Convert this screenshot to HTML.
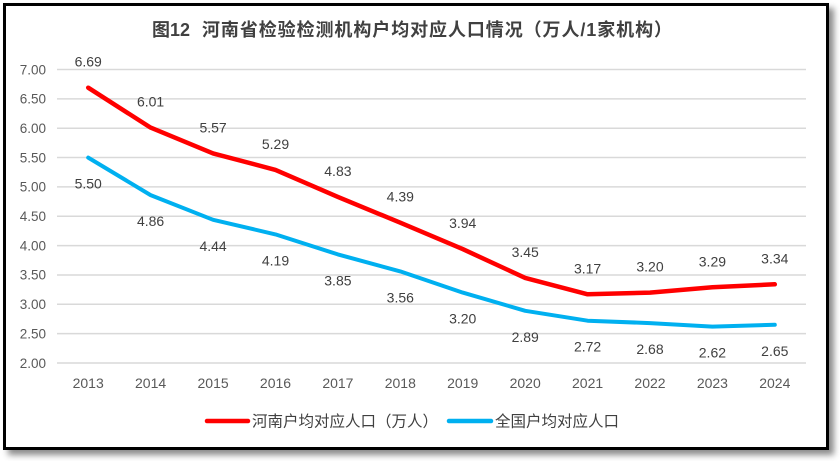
<!DOCTYPE html>
<html><head><meta charset="utf-8"><style>
html,body{margin:0;padding:0;background:#fff;}
body{width:840px;height:461px;position:relative;overflow:hidden;}
#frame{position:absolute;left:3px;top:3px;width:826px;height:447px;box-sizing:border-box;border:3px solid #000;background:#fff;box-shadow:5px 5px 6px rgba(0,0,0,0.45);}
svg{position:absolute;left:0;top:0;}
</style></head><body>
<div id="frame"></div>
<svg width="840" height="461" viewBox="0 0 840 461" xmlns="http://www.w3.org/2000/svg">
<text x="152" y="36" font-family="'Liberation Sans','Noto Sans CJK SC',sans-serif" font-weight="bold" font-size="18" fill="#404040">图12</text>
<text x="202" y="36" textLength="470" lengthAdjust="spacing" font-family="'Liberation Sans','Noto Sans CJK SC',sans-serif" font-weight="bold" font-size="18" fill="#404040">河南省检验检测机构户均对应人口情况（万人/1家机构）</text>
<g stroke="#D9D9D9" stroke-width="1.5">
<line x1="57" x2="806" y1="69.5" y2="69.5"/>
<line x1="57" x2="806" y1="98.85" y2="98.85"/>
<line x1="57" x2="806" y1="128.2" y2="128.2"/>
<line x1="57" x2="806" y1="157.55" y2="157.55"/>
<line x1="57" x2="806" y1="186.9" y2="186.9"/>
<line x1="57" x2="806" y1="216.25" y2="216.25"/>
<line x1="57" x2="806" y1="245.6" y2="245.6"/>
<line x1="57" x2="806" y1="274.95" y2="274.95"/>
<line x1="57" x2="806" y1="304.3" y2="304.3"/>
<line x1="57" x2="806" y1="333.65" y2="333.65"/>
<line x1="57" x2="806" y1="363" y2="363"/>
</g>
<g font-family="'Liberation Sans',sans-serif" font-size="13.5" fill="#595959" text-anchor="end">
<text x="46" y="74.3">7.00</text>
<text x="46" y="103.6">6.50</text>
<text x="46" y="133">6.00</text>
<text x="46" y="162.3">5.50</text>
<text x="46" y="191.7">5.00</text>
<text x="46" y="221">4.50</text>
<text x="46" y="250.4">4.00</text>
<text x="46" y="279.7">3.50</text>
<text x="46" y="309.1">3.00</text>
<text x="46" y="338.4">2.50</text>
<text x="46" y="367.8">2.00</text>
</g>
<g font-family="'Liberation Sans',sans-serif" font-size="14" fill="#595959" text-anchor="middle">
<text x="88.2" y="388">2013</text>
<text x="150.6" y="388">2014</text>
<text x="213.1" y="388">2015</text>
<text x="275.5" y="388">2016</text>
<text x="337.9" y="388">2017</text>
<text x="400.3" y="388">2018</text>
<text x="462.7" y="388">2019</text>
<text x="525.2" y="388">2020</text>
<text x="587.6" y="388">2021</text>
<text x="650.0" y="388">2022</text>
<text x="712.4" y="388">2023</text>
<text x="774.8" y="388">2024</text>
</g>
<polyline fill="none" stroke="#00B0F0" stroke-width="4" stroke-linejoin="round" stroke-linecap="round" points="88.2,157.6 150.6,195.1 213.1,219.8 275.5,234.4 337.9,254.4 400.3,271.4 462.7,292.6 525.2,310.8 587.6,320.7 650.0,323.1 712.4,326.6 774.8,324.8"/>
<polyline fill="none" stroke="#FF0000" stroke-width="4.5" stroke-linejoin="round" stroke-linecap="round" points="88.2,87.7 150.6,127.6 213.1,153.4 275.5,169.9 337.9,196.9 400.3,222.7 462.7,249.1 525.2,277.9 587.6,294.3 650.0,292.6 712.4,287.3 774.8,284.3"/>
<g font-family="'Liberation Sans',sans-serif" font-size="14" fill="#404040" text-anchor="middle">
<text x="88.2" y="66.7">6.69</text>
<text x="150.6" y="106.6">6.01</text>
<text x="213.1" y="132.4">5.57</text>
<text x="275.5" y="148.9">5.29</text>
<text x="337.9" y="175.9">4.83</text>
<text x="400.3" y="201.7">4.39</text>
<text x="462.7" y="228.1">3.94</text>
<text x="525.2" y="256.9">3.45</text>
<text x="587.6" y="273.3">3.17</text>
<text x="650.0" y="271.6">3.20</text>
<text x="712.4" y="266.3">3.29</text>
<text x="774.8" y="263.3">3.34</text>
<text x="88.2" y="188.6">5.50</text>
<text x="150.6" y="226.1">4.86</text>
<text x="213.1" y="250.8">4.44</text>
<text x="275.5" y="265.4">4.19</text>
<text x="337.9" y="285.4">3.85</text>
<text x="400.3" y="302.4">3.56</text>
<text x="462.7" y="323.6">3.20</text>
<text x="525.2" y="341.8">2.89</text>
<text x="587.6" y="351.7">2.72</text>
<text x="650.0" y="354.1">2.68</text>
<text x="712.4" y="357.6">2.62</text>
<text x="774.8" y="355.8">2.65</text>
</g>
<line x1="207" x2="248" y1="421" y2="421" stroke="#FF0000" stroke-width="4.5" stroke-linecap="round"/>
<text x="252" y="426.5" font-family="'Liberation Sans','Noto Sans CJK SC',sans-serif" font-size="15.5" fill="#404040">河南户均对应人口（万人）</text>
<line x1="449" x2="491" y1="421" y2="421" stroke="#00B0F0" stroke-width="4.5" stroke-linecap="round"/>
<text x="495" y="426.5" font-family="'Liberation Sans','Noto Sans CJK SC',sans-serif" font-size="15.5" fill="#404040">全国户均对应人口</text>
</svg>
</body></html>
